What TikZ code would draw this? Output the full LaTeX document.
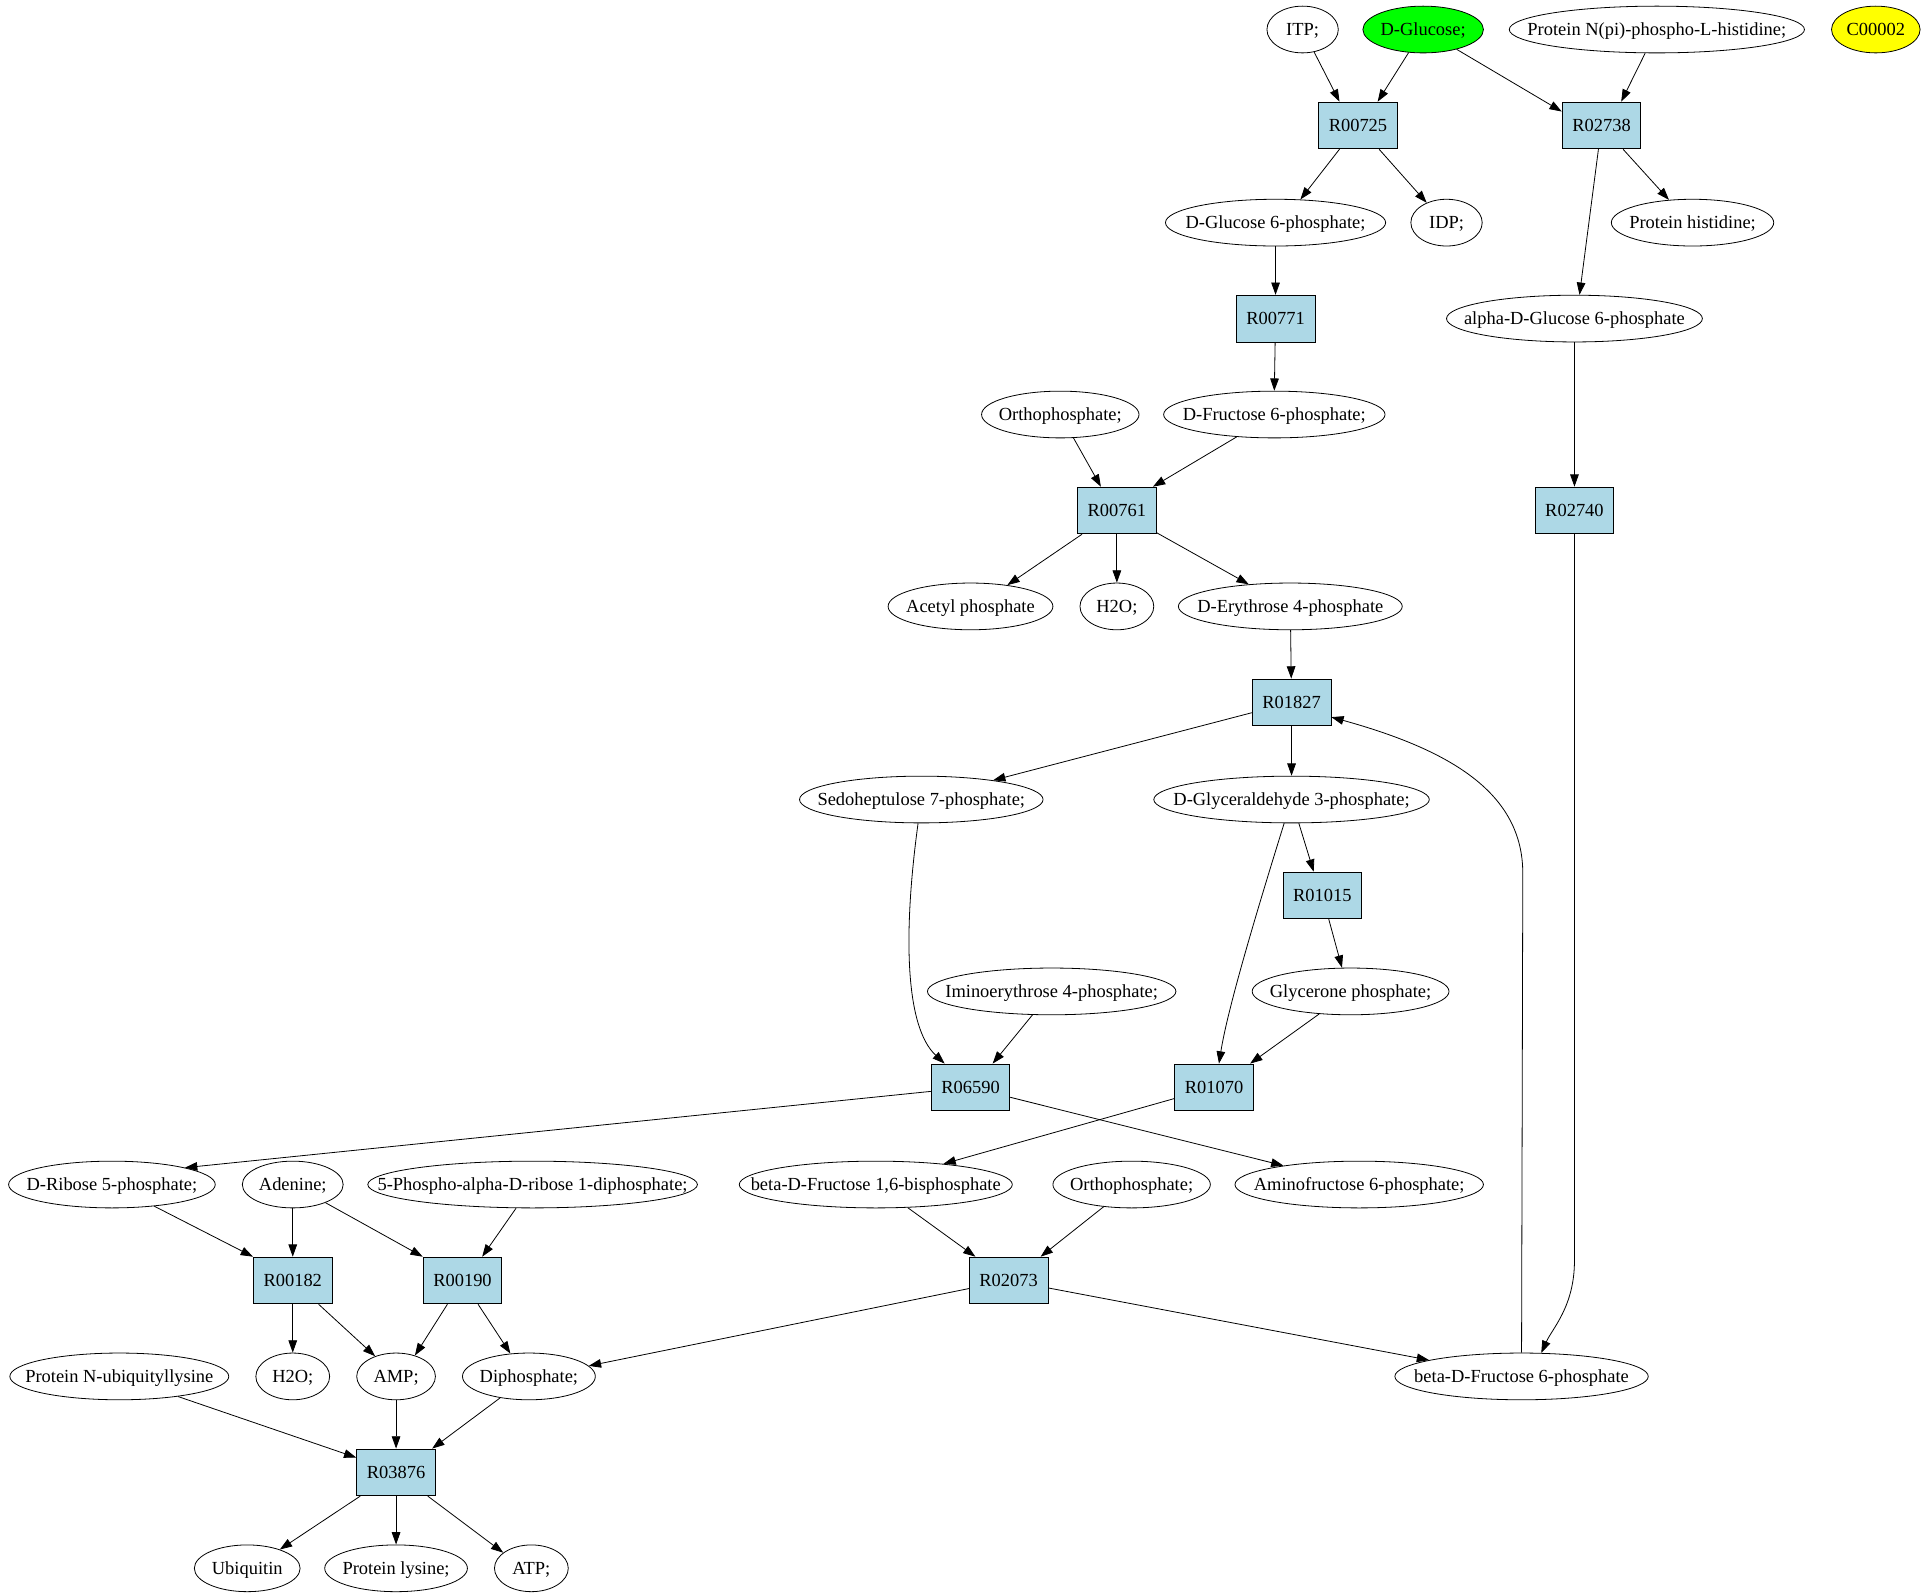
\documentclass[tikz,border=0pt]{standalone}
\usepackage{fontspec}
\setmainfont{Liberation Serif}
\usetikzlibrary{shapes.geometric,arrows.meta}
\definecolor{gvblue}{HTML}{ADD8E6}
\definecolor{gvgreen}{HTML}{00FF00}
\definecolor{gvyellow}{HTML}{FFFF00}
\newcommand\gl[1]{\makebox[0pt]{\raisebox{-0.33em}[0pt][0pt]{#1}}}
\begin{document}
\begin{tikzpicture}[x=1pt,y=-1pt,line width=0.65pt,
  comp/.style={draw,ellipse,inner sep=0pt,minimum height=38pt,font=\fontsize{15}{18}\selectfont},
  rxn/.style={draw,fill=gvblue,rectangle,inner sep=0pt,minimum width=64pt,minimum height=38pt,font=\fontsize{15}{18}\selectfont},
  arr/.style={-{Triangle[length=10pt,width=7pt]}}]
\useasboundingbox (0,0) rectangle (1565,1297);
% row 1
\node[comp,minimum width=58pt] (ITP) at (1059,24) {\gl{ITP;}};
\node[comp,fill=gvgreen,minimum width=98pt] (DGlc) at (1157,24) {\gl{D-Glucose;}};
\node[comp,minimum width=240pt] (PNpi) at (1347,24) {\gl{Protein N(pi)-phospho-L-histidine;}};
\node[comp,fill=gvyellow,minimum width=72pt] (C2) at (1525,24) {\gl{C00002}};
% row 2
\node[rxn] (R00725) at (1104,102) {R00725};
\node[rxn] (R02738) at (1302,102) {R02738};
% row 3
\node[comp,minimum width=179pt] (DG6P) at (1037,181) {\gl{D-Glucose 6-phosphate;}};
\node[comp,minimum width=58pt] (IDP) at (1176,181) {\gl{IDP;}};
\node[comp,minimum width=132pt] (PHis) at (1376,181) {\gl{Protein histidine;}};
% row 4
\node[rxn] (R00771) at (1037,259) {R00771};
\node[comp,minimum width=208pt] (aDG6P) at (1280,259) {\gl{alpha-D-Glucose 6-phosphate}};
% row 5
\node[comp,minimum width=128pt] (Ortho1) at (862,337) {\gl{Orthophosphate;}};
\node[comp,minimum width=180pt] (DF6P) at (1036,337) {\gl{D-Fructose 6-phosphate;}};
% row 6
\node[rxn] (R00761) at (908,415) {R00761};
\node[rxn] (R02740) at (1280,415) {R02740};
% row 7
\node[comp,minimum width=134pt] (AcP) at (789,493) {\gl{Acetyl phosphate}};
\node[comp,minimum width=60pt] (H2Oa) at (908,493) {\gl{H2O;}};
\node[comp,minimum width=182pt] (DE4P) at (1049,493) {\gl{D-Erythrose 4-phosphate}};
% row 8
\node[rxn] (R01827) at (1050,571) {R01827};
% row 9
\node[comp,minimum width=198pt] (Sedo) at (749,650) {\gl{Sedoheptulose 7-phosphate;}};
\node[comp,minimum width=224pt] (DGA3P) at (1050,650) {\gl{D-Glyceraldehyde 3-phosphate;}};
% row 10
\node[rxn] (R01015) at (1075,728) {R01015};
% row 11
\node[comp,minimum width=202pt] (Imino) at (855,806) {\gl{Iminoerythrose 4-phosphate;}};
\node[comp,minimum width=160pt] (Glyc) at (1098,806) {\gl{Glycerone phosphate;}};
% row 12
\node[rxn] (R06590) at (789,884) {R06590};
\node[rxn] (R01070) at (987,884) {R01070};
% row 13
\node[comp,minimum width=168pt] (DRib) at (91,963) {\gl{D-Ribose 5-phosphate;}};
\node[comp,minimum width=82pt] (Aden) at (238,963) {\gl{Adenine;}};
\node[comp,minimum width=268pt] (PRPP) at (433,963) {\gl{5-Phospho-alpha-D-ribose 1-diphosphate;}};
\node[comp,minimum width=222pt] (bF16BP) at (712,963) {\gl{beta-D-Fructose 1,6-bisphosphate}};
\node[comp,minimum width=128pt] (Ortho2) at (920,963) {\gl{Orthophosphate;}};
\node[comp,minimum width=202pt] (AmF6P) at (1105,963) {\gl{Aminofructose 6-phosphate;}};
% row 14
\node[rxn] (R00182) at (238,1041) {R00182};
\node[rxn] (R00190) at (376,1041) {R00190};
\node[rxn] (R02073) at (820,1041) {R02073};
% row 15
\node[comp,minimum width=178pt] (PNUb) at (97,1119) {\gl{Protein N-ubiquityllysine}};
\node[comp,minimum width=60pt] (H2Ob) at (238,1119) {\gl{H2O;}};
\node[comp,minimum width=64pt] (AMP) at (322,1119) {\gl{AMP;}};
\node[comp,minimum width=108pt] (Diph) at (430,1119) {\gl{Diphosphate;}};
\node[comp,minimum width=206pt] (bF6P) at (1237,1119) {\gl{beta-D-Fructose 6-phosphate}};
% row 16
\node[rxn] (R03876) at (322,1197) {R03876};
% row 17
\node[comp,minimum width=86pt] (Ubiq) at (201,1275) {\gl{Ubiquitin}};
\node[comp,minimum width=116pt] (PLys) at (322,1275) {\gl{Protein lysine;}};
\node[comp,minimum width=60pt] (ATP) at (432,1275) {\gl{ATP;}};
% edges
\draw[arr] (ITP) -- ([xshift=-15pt]R00725.north);
\draw[arr] (DGlc) -- ([xshift=16pt]R00725.north);
\draw[arr] (DGlc) -- ([yshift=-8pt]R02738.north west);
\draw[arr] (PNpi) -- ([xshift=16pt]R02738.north);
\draw[arr] (R00725) -- (DG6P.43);
\draw[arr] (R00725) -- (IDP.135);
\draw[arr] (R02738) -- (PHis.136);
\draw[arr] (R02738) -- (aDG6P.78);
\draw[arr] (DG6P) -- (R00771);
\draw[arr] (R00771) -- (DF6P.north);
\draw[arr] (Ortho1) -- ([xshift=-13pt]R00761.north);
\draw[arr] (DF6P) -- ([xshift=-3pt]R00761.north east);
\draw[arr] (aDG6P) -- (R02740);
\draw[arr] (R00761) -- (AcP.30);
\draw[arr] (R00761) -- (H2Oa);
\draw[arr] (R00761) -- (DE4P.152);
\draw[arr] (R02740.south) -- (1280,1025) .. controls (1280,1062) and (1262,1080) .. (bF6P.50);
\draw[arr] (DE4P) -- (R01827);
\draw[arr] (R01827) -- (Sedo.15);
\draw[arr] (R01827) -- (DGA3P);
\draw[arr] (bF6P.north) -- (1238,710) .. controls (1238,645) and (1180,610) .. ([yshift=-12pt]R01827.east);
\draw[arr] (DGA3P) -- ([xshift=-7pt]R01015.north);
\draw[arr] (DGA3P) .. controls (1022,740) and (998,820) .. ([xshift=4pt]R01070.north);
\draw[arr] (R01015) -- (Glyc.110);
\draw[arr] (Sedo) .. controls (734,760) and (736,835) .. ([xshift=-21pt]R06590.north);
\draw[arr] (Imino) -- ([xshift=18pt]R06590.north);
\draw[arr] (Glyc) -- ([xshift=-3pt]R01070.north east);
\draw[arr] (R06590) -- (DRib.13);
\draw[arr] (R06590) -- (AmF6P.166);
\draw[arr] (R01070) -- (bF16BP.17);
\draw[arr] (DRib) -- (R00182.north west);
\draw[arr] (Aden) -- (R00182);
\draw[arr] (Aden) -- (R00190.north west);
\draw[arr] (PRPP) -- ([xshift=16pt]R00190.north);
\draw[arr] (bF16BP) -- ([xshift=-27pt]R02073.north);
\draw[arr] (Ortho2) -- ([xshift=26pt]R02073.north);
\draw[arr] (R00182) -- (H2Ob);
\draw[arr] (R00182) -- (AMP.136);
\draw[arr] (R00190) -- (AMP.48);
\draw[arr] (R00190) -- (Diph.129);
\draw[arr] (R02073) -- (Diph.10);
\draw[arr] (R02073) -- (bF6P.170);
\draw[arr] (PNUb) -- ([yshift=12pt]R03876.west);
\draw[arr] (AMP) -- (R03876);
\draw[arr] (Diph) -- ([xshift=-3pt]R03876.north east);
\draw[arr] (R03876) -- (Ubiq.30);
\draw[arr] (R03876) -- (PLys);
\draw[arr] (R03876) -- (ATP.151);
\end{tikzpicture}
\end{document}
